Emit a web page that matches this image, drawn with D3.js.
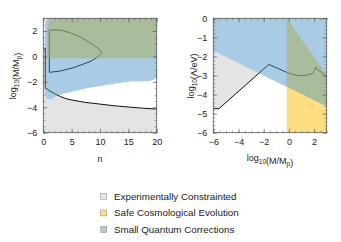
<!DOCTYPE html>
<html>
<head>
<meta charset="utf-8">
<script src="https://cdn.jsdelivr.net/npm/d3@7"></script>
<style>
  body { margin: 0; background: #fff; }
  text { font-family: "Liberation Sans", Arial, sans-serif; fill: #222; }
</style>
</head>
<body>
<script>
const width = 341;
const height = 242;

// ---- left panel data (n, log10 M/Mp) ----
const nTicks = [0, 5, 10, 15, 20];
const leftYTicks = [-6, -4, -2, 0, 2];
const leftGray = [[0, 0.65], [0.35, 0.65], [0.35, -2.45], [1, -2.68], [2, -2.93], [3, -3.15], [4, -3.32], [5, -3.43],
  [7.5, -3.62], [10, -3.75], [12.5, -3.88], [15, -3.98], [17.5, -4.07], [20, -4.14], [20, -6], [0, -6]];
const leftLine = [[0, 0.65], [0.35, 0.65], [0.35, -2.45], [1, -2.68], [2, -2.93], [3, -3.15], [4, -3.32], [5, -3.43],
  [7.5, -3.62], [10, -3.75], [12.5, -3.88], [15, -3.98], [17.5, -4.07], [20, -4.14]];
const leftBlue = [[0.3, -3.05], [0.3, 2.4], [0.42, 2.8], [0.8, 3], [20, 3], [20, -1.64], [15, -1.99], [10, -2.33],
  [5, -2.77], [3, -3.0], [2, -3.2], [1.5, -3.33], [1, -3.38], [0.6, -3.28]];
const leftGreen = [[0.7, -0.15], [0.7, 2.2], [0.85, 2.6], [1.2, 2.85], [1.76, 2.97], [2.2, 3], [20, 3], [20, -0.15]];
const leftLoop = [[1.06, 2.08], [2.95, 2.08], [4.8, 1.85], [6.47, 1.55], [8.82, 0.9], [9.9, 0.55], [10.3, 0.3],
  [9.7, -0.02], [8.24, -0.41], [5.29, -0.89], [2.95, -1.15], [1.06, -1.25], [1.06, 2.08]];

// ---- right panel data (log10 M/Mp, log10 Lambda/eV) ----
const rightXTicks = [-6, -4, -2, 0, 2];
const rightYTicks = [0, -1, -2, -3, -4, -5, -6];
const rightGray = [[-6, -4.74], [-5.55, -4.74], [-1.6, -2.42], [-1.6, 0], [-6, 0]];
const rightLine = [[-6, -4.74], [-5.55, -4.74], [-1.6, -2.42], [-0.18, -2.83], [0.4, -2.96], [0.94, -3.01],
  [1.5, -2.97], [1.87, -2.89], [2.05, -2.72], [2.14, -2.56], [2.3, -2.7], [2.54, -2.8], [3, -3.06]];
const rightBlue = [[-6, 0], [3, 0], [3, -4.64], [-6, -1.7]];
const rightGreen = [[-0.18, 0], [3, -2.97], [3, -4.64], [-0.18, -3.6]];
const rightYellow = [[-0.18, -3.6], [3, -4.64], [3, -6], [-0.18, -6]];

const legendLabels = ["Experimentally Constrainted", "Safe Cosmological Evolution", "Small Quantum Corrections"];
const legendColors = ["#e4e4e4", "#fedd83", "#a9cbe3"];

const svg = d3.select("body").append("svg")
  .attr("width", width)
  .attr("height", height);

function panel(opts) {
  const x = d3.scaleLinear().domain(opts.xDomain).range([opts.left, opts.right]);
  const y = d3.scaleLinear().domain(opts.yDomain).range([132.7, 18.3]);
  const g = svg.append("g");

  const clipId = "clip" + opts.id;
  svg.append("clipPath").attr("id", clipId)
    .append("rect")
    .attr("x", opts.left).attr("y", 18.3)
    .attr("width", opts.right - opts.left).attr("height", 132.7 - 18.3);

  const area = g.append("g").attr("clip-path", `url(#${clipId})`);
  const poly = d3.line().x(d => x(d[0])).y(d => y(d[1]));
  const smooth = d3.line().x(d => x(d[0])).y(d => y(d[1])).curve(d3.curveCatmullRom);

  area.append("path").attr("d", poly(opts.gray) + "Z").attr("fill", "#e4e4e4");
  area.append("path").attr("d", (opts.blueCurve ? smooth : poly)(opts.blue) + "Z").attr("fill", "#fff");
  opts.lines.forEach(l => {
    area.append("path").attr("d", (l.smooth ? smooth : poly)(l.pts))
      .attr("fill", "none").attr("stroke", "#111").attr("stroke-width", 1);
  });
  area.append("path").attr("d", (opts.blueCurve ? smooth : poly)(opts.blue) + "Z")
    .attr("fill", "rgb(64,139,195)").attr("fill-opacity", 0.45);
  area.append("path").attr("d", poly(opts.green) + "Z")
    .attr("fill", "rgb(169,173,84)").attr("fill-opacity", 0.5);
  if (opts.yellow) {
    area.append("path").attr("d", poly(opts.yellow) + "Z").attr("fill", "#fedd83");
  }

  // frame
  g.append("rect")
    .attr("x", opts.left).attr("y", 18.3)
    .attr("width", opts.right - opts.left).attr("height", 132.7 - 18.3)
    .attr("fill", "none").attr("stroke", "#555").attr("stroke-width", 0.8);

  const xMinor = d3.range(opts.xDomain[0], opts.xDomain[1] + 1e-9, opts.xMinor);
  const yMinor = d3.range(opts.yDomain[0], opts.yDomain[1] + 1e-9, opts.yMinor);

  const axes = [
    [d3.axisBottom(x).tickValues(opts.xTicks), `translate(0,132.7)`, true],
    [d3.axisTop(x).tickValues(opts.xTicks), `translate(0,18.3)`, false],
    [d3.axisLeft(y).tickValues(opts.yTicks), `translate(${opts.left},0)`, true],
    [d3.axisRight(y).tickValues(opts.yTicks), `translate(${opts.right},0)`, false]
  ];
  axes.forEach(([ax, tr, labels]) => {
    const a = g.append("g").attr("transform", tr)
      .call(ax.tickSize(-4).tickPadding(6).tickFormat(labels ? d3.format("") : ""));
    a.select(".domain").remove();
    a.selectAll("line").attr("stroke", "#555").attr("stroke-width", 0.6);
    a.selectAll("text").attr("font-size", 9).attr("fill", "#222").attr("font-family", "Liberation Sans, Arial, sans-serif");
  });
  const minors = [
    [d3.axisBottom(x).tickValues(xMinor), `translate(0,132.7)`],
    [d3.axisTop(x).tickValues(xMinor), `translate(0,18.3)`],
    [d3.axisLeft(y).tickValues(yMinor), `translate(${opts.left},0)`],
    [d3.axisRight(y).tickValues(yMinor), `translate(${opts.right},0)`]
  ];
  minors.forEach(([ax, tr]) => {
    const a = g.append("g").attr("transform", tr).call(ax.tickSize(-2).tickFormat(""));
    a.select(".domain").remove();
    a.selectAll("line").attr("stroke", "#555").attr("stroke-width", 0.5);
  });
  return { x, y };
}

panel({
  id: "L", left: 43.3, right: 156.7, xDomain: [0, 20], yDomain: [-6, 3],
  xTicks: nTicks, yTicks: leftYTicks, xMinor: 1, yMinor: 0.5,
  gray: leftGray, blue: leftBlue, blueCurve: true, green: leftGreen,
  lines: [{ pts: leftLine, smooth: false }, { pts: leftLoop, smooth: false }]
});

panel({
  id: "R", left: 213.3, right: 326.7, xDomain: [-6, 3], yDomain: [-6, 0],
  xTicks: rightXTicks, yTicks: rightYTicks, xMinor: 0.5, yMinor: 0.2,
  gray: rightGray, blue: rightBlue, blueCurve: false, green: rightGreen, yellow: rightYellow,
  lines: [{ pts: rightLine, smooth: false }]
});

// axis labels with subscripts
function subLabel(x, y, rotate, parts) {
  const t = svg.append("text")
    .attr("text-anchor", "middle")
    .attr("font-size", 9)
    .attr("transform", `translate(${x},${y})` + (rotate ? " rotate(-90)" : ""));
  parts.forEach(p => {
    if (p.sub) {
      t.append("tspan").attr("dy", 2.5).attr("font-size", 6.5).text(p.sub);
      t.append("tspan").attr("dy", -2.5).text("");
    } else {
      t.append("tspan").text(p.t);
    }
  });
}
subLabel(16, 76, true, [{ t: "log" }, { sub: "10" }, { t: "(M/M" }, { sub: "p" }, { t: ")" }]);
subLabel(194, 76, true, [{ t: "log" }, { sub: "10" }, { t: "(Λ/eV)" }]);
subLabel(270, 161, false, [{ t: "log" }, { sub: "10" }, { t: "(M/M" }, { sub: "p" }, { t: ")" }]);
svg.append("text").attr("x", 100).attr("y", 162).attr("text-anchor", "middle").attr("font-size", 9).text("n");

// legend
const legend = svg.append("g");
legendLabels.forEach((lab, i) => {
  const cy = 196.3 + i * 16.6;
  legend.append("rect").attr("x", 100.7).attr("y", cy - 3).attr("width", 6).attr("height", 6)
    .attr("fill", legendColors[i]).attr("stroke", "#999").attr("stroke-width", 0.6);
  legend.append("text").attr("x", 114).attr("y", cy + 3.4).attr("font-size", 9.8).text(lab);
});
</script>
</body>
</html>
